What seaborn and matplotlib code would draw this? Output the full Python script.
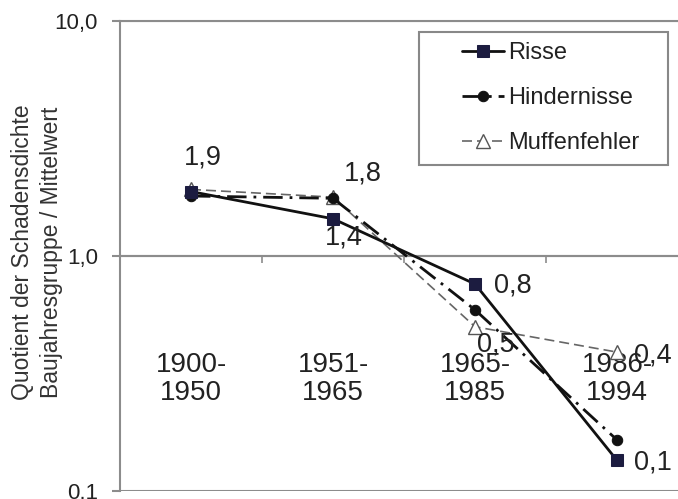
import numpy as np
import pandas as pd
import matplotlib
matplotlib.use("Agg")
import matplotlib.pyplot as plt
from matplotlib.patches import Rectangle
import seaborn as sns

# ---- data ----
categories = ["1900-\n1950", "1951-\n1965", "1965-\n1985", "1986-\n1994"]
series_names = ["Risse", "Hindernisse", "Muffenfehler"]
risse = [1.88, 1.44, 0.76, 0.135]
hindernisse = [1.80, 1.76, 0.59, 0.165]
muffenfehler = [1.92, 1.78, 0.50, 0.39]
ytick_values = [0.1, 1.0, 10.0]
ytick_labels = ["0,1", "1,0", "10,0"]
ylabel = "Quotient der Schadensdichte\nBaujahresgruppe / Mittelwert"

# labels shown: (series index, category index)
value_labels = [(0, 0), (2, 1), (0, 1), (0, 2), (2, 2), (2, 3), (0, 3)]
label_offsets = [(12, 34), (30, 24), (11, -19), (38, -1), (21, -18), (36, -3), (36, -2)]

sns.set_theme(style="white")
plt.rcParams["font.family"] = ["Liberation Sans", "DejaVu Sans"]

W, H = 678, 499
fig = plt.figure(figsize=(W / 100, H / 100), dpi=100)
ax = fig.add_axes([120 / W, 8 / H, 568 / W, 470 / H])

x = np.arange(len(categories))
all_vals = [risse, hindernisse, muffenfehler]
styles = [
    dict(color="#111111", linestyle="-", linewidth=2.0, marker="s", markersize=8.5,
         markerfacecolor="#1c1c40", markeredgecolor="#1c1c40", zorder=5),
    dict(color="#111111", linestyle=(0, (7, 2.5, 1, 2.5)), linewidth=2.0, marker="o",
         markersize=7.5, markerfacecolor="#111111", markeredgecolor="#111111", zorder=4),
    dict(color="#666666", linestyle=(0, (6, 3)), linewidth=1.2, marker="^", markersize=10,
         markerfacecolor="white", markeredgecolor="#555555", markeredgewidth=1.0, zorder=3),
]

for name, vals, st in zip(series_names, all_vals, styles):
    df = pd.DataFrame({"x": x, "y": vals})
    sns.lineplot(data=df, x="x", y="y", ax=ax, label=name, errorbar=None, **st)

ax.set_yscale("log")
ax.set_ylim(0.1, 10)
ax.set_xlim(-0.5, 3.5)

grid_c = "#8c8c8c"
for yv in ytick_values:
    ax.axhline(yv, color=grid_c, lw=1.5, zorder=0.5)

ax.set_yticks(ytick_values)
ax.set_yticklabels(ytick_labels)
ax.yaxis.set_minor_locator(matplotlib.ticker.NullLocator())
ax.tick_params(axis="y", which="major", direction="out", length=6, width=1.5,
               color=grid_c, labelsize=16, labelcolor="#222222", pad=10, left=True)

# x axis crosses at 1.0, with ticks between categories
ax.spines["bottom"].set_position(("data", 1.0))
ax.spines["bottom"].set_color(grid_c)
ax.spines["bottom"].set_linewidth(1.5)
ax.set_xticks(x[:-1] + 0.5)
ax.set_xticklabels([])
ax.xaxis.set_minor_locator(matplotlib.ticker.NullLocator())
ax.tick_params(axis="x", direction="out", length=5, width=1.2, color=grid_c, bottom=True)
for s in ["left", "top", "right"]:
    ax.spines[s].set_color(grid_c)
    ax.spines[s].set_linewidth(1.5)
ax.set_xlabel("")
ax.set_ylabel("")

# category labels inside plot
for xi, cat in zip(x, categories):
    ax.text(xi, 0.30, cat, ha="center", va="center", fontsize=20, color="#222222",
            linespacing=1.1, zorder=1)

# value labels
for (si, ci), (dx, dy) in zip(value_labels, label_offsets):
    v = all_vals[si][ci]
    ax.annotate(f"{v:.1f}".replace(".", ","), xy=(ci, v), xytext=(dx, dy),
                textcoords="offset pixels", ha="center", va="center",
                fontsize=19.5, color="#222222", zorder=6)

# y label
fig.text(37 / W, 1 - 252 / H, ylabel, rotation=90, ha="center", va="center",
         fontsize=16.5, color="#333333", linespacing=1.3)

# legend
rect = Rectangle((419 / W, 1 - 165 / H), 249 / W, 133 / H, transform=fig.transFigure,
                 facecolor="white", edgecolor="#888888", lw=1.5, zorder=8, clip_on=False)
ax.add_patch(rect)
h, l = ax.get_legend_handles_labels()
leg = ax.legend(h, l, loc="upper left", bbox_to_anchor=(462 / W, 1 - 42 / H),
                bbox_transform=fig.transFigure, frameon=False, borderpad=0,
                borderaxespad=0, handlelength=1.8, handletextpad=0.15,
                labelspacing=0.97, fontsize=17)
for t in leg.get_texts():
    t.set_color("#222222")
leg.set_zorder(10)

fig.savefig("out.png", dpi=100)
